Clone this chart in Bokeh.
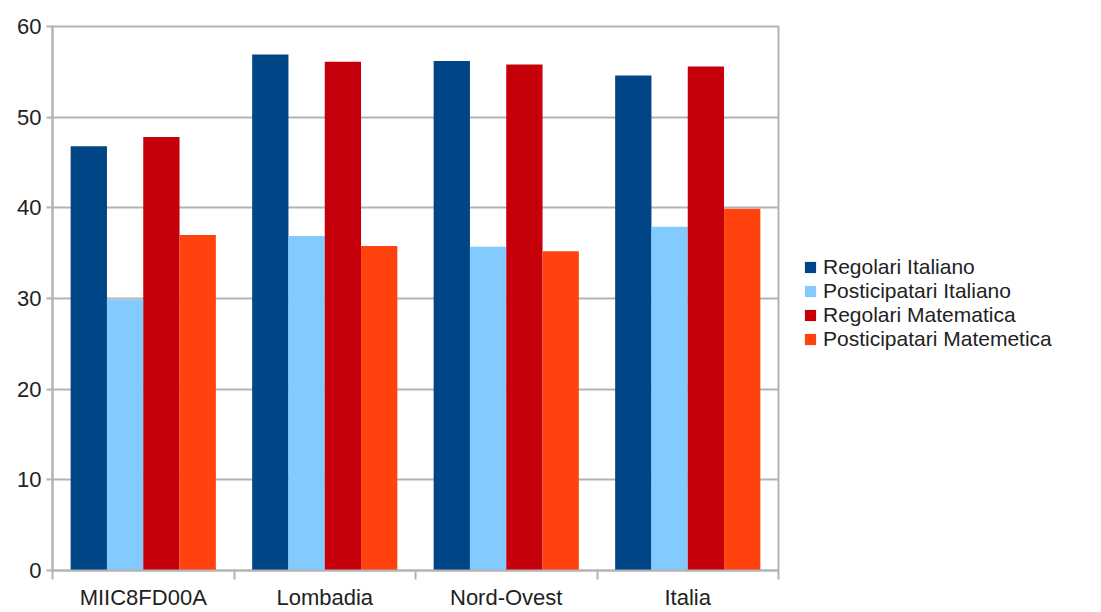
from bokeh.plotting import figure
from bokeh.models import ColumnDataSource, FixedTicker, Legend, LegendItem, Range1d
from bokeh.embed import file_html
from bokeh.resources import INLINE

categories = ["MIIC8FD00A", "Lombadia", "Nord-Ovest", "Italia"]
series_names = ["Regolari Italiano", "Posticipatari Italiano", "Regolari Matematica", "Posticipatari Matemetica"]
regolari_italiano = [46.8, 56.9, 56.2, 54.6]
posticipatari_italiano = [29.9, 36.9, 35.7, 37.9]
regolari_matematica = [47.8, 56.1, 55.8, 55.6]
posticipatari_matematica = [37.0, 35.8, 35.2, 39.9]
y_ticks = [0, 10, 20, 30, 40, 50, 60]

series_values = [regolari_italiano, posticipatari_italiano, regolari_matematica, posticipatari_matematica]
colors = ["#004586", "#83caff", "#c5000b", "#ff420e"]
offsets = [-0.3, -0.1, 0.1, 0.3]

FONT = "Liberation Sans"
GRAY = "#b3b3b3"
TEXT = "#222222"

p = figure(frame_width=726, frame_height=544, output_backend="svg", toolbar_location=None,
           x_range=Range1d(0, len(categories)), y_range=Range1d(0, 60),
           min_border_left=52, min_border_top=26, min_border_right=0, min_border_bottom=32)

centers = [i + 0.5 for i in range(len(categories))]
items = []
for name, vals, col, off in zip(series_names, series_values, colors, offsets):
    src = ColumnDataSource(dict(x=[c + off for c in centers], top=vals))
    r = p.vbar(x="x", top="top", width=0.2, bottom=0, source=src,
               fill_color=col, line_color=None)
    items.append(LegendItem(label=name, renderers=[r]))

# x axis: labels at centers, tick marks at boundaries
p.xaxis.ticker = FixedTicker(ticks=centers, minor_ticks=list(range(len(categories) + 1)))
p.xaxis.major_label_overrides = {c: lab for c, lab in zip(centers, categories)}
p.xaxis.major_tick_line_color = None
p.xaxis.major_tick_out = 0
p.xaxis.major_tick_in = 0
p.xaxis.minor_tick_out = 9
p.xaxis.minor_tick_in = 0
p.xaxis.minor_tick_line_color = GRAY
p.xaxis.minor_tick_line_width = 2
p.xaxis.major_label_standoff = 5
p.xgrid.grid_line_color = None

p.yaxis.ticker = FixedTicker(ticks=y_ticks, minor_ticks=[])
p.yaxis.major_tick_out = 6
p.yaxis.major_tick_in = 0
p.yaxis.major_tick_line_color = GRAY
p.yaxis.major_tick_line_width = 2
p.yaxis.major_label_standoff = 5
p.ygrid.grid_line_color = GRAY
p.ygrid.grid_line_width = 2

for ax in (p.xaxis, p.yaxis):
    ax.axis_line_color = GRAY
    ax.axis_line_width = 2
    ax.major_label_text_font = FONT
    ax.major_label_text_font_size = "22px"
    ax.major_label_text_color = TEXT

p.outline_line_color = GRAY
p.outline_line_width = 2
p.background_fill_color = "white"
p.border_fill_color = "white"

legend = Legend(items=items, location=(25, 219), orientation="vertical",
                label_text_font=FONT, label_text_font_size="21px", label_text_color=TEXT,
                glyph_width=14, glyph_height=14, label_standoff=6, spacing=0,
                label_height=22, padding=0, margin=25,
                border_line_color=None, background_fill_alpha=0)
p.add_layout(legend, "right")

open("out.html", "w").write(file_html(p, INLINE))
